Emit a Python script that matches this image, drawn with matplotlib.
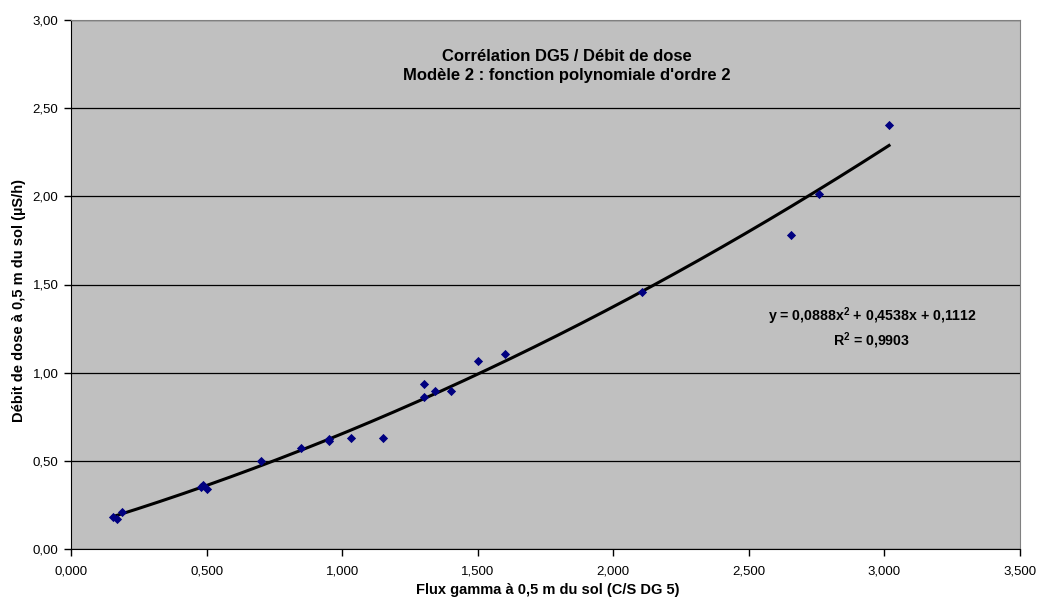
import numpy as np
import matplotlib
matplotlib.use("Agg")
import matplotlib.pyplot as plt
from matplotlib.ticker import FuncFormatter, MultipleLocator

plt.rcParams['font.family'] = ['Liberation Sans', 'DejaVu Sans']

# flux gamma (C/S DG5) vs débit de dose (µS/h)
flux = [0.156, 0.168, 0.188, 0.478, 0.488, 0.500, 0.700, 0.850, 0.950, 0.950,
        1.032, 1.152, 1.301, 1.301, 1.341, 1.402, 1.501, 1.601, 2.105, 2.656,
        2.757, 3.017]
dose = [0.180, 0.170, 0.210, 0.350, 0.361, 0.338, 0.497, 0.574, 0.625, 0.610,
        0.627, 0.627, 0.935, 0.860, 0.897, 0.897, 1.066, 1.105, 1.457, 1.778,
        2.011, 2.405]

# trend line coefficients as printed on the chart
coef = [0.0888, 0.4538, 0.1112]
r2 = 0.9903

fig = plt.figure(figsize=(10.45, 6.03), dpi=100)
ax = fig.add_axes([71/1045, 1 - 549/603, (1020 - 71)/1045, (549 - 20)/603])
ax.set_facecolor('#C0C0C0')

ax.set_xlim(0, 3.5)
ax.set_ylim(0, 3.0)
ax.xaxis.set_major_locator(MultipleLocator(0.5))
ax.yaxis.set_major_locator(MultipleLocator(0.5))
ax.xaxis.set_major_formatter(FuncFormatter(lambda v, p: f"{v:.3f}".replace('.', ',')))
ax.yaxis.set_major_formatter(FuncFormatter(lambda v, p: f"{v:.2f}".replace('.', ',')))

ax.yaxis.grid(True, color='black', linewidth=0.9)
ax.set_axisbelow(True)

xs = np.linspace(min(flux), max(flux), 200)
ax.plot(xs, np.polyval(coef, xs), color='black', linewidth=2.2, zorder=3)
ax.scatter(flux, dose, marker='D', s=22, color='#000080', zorder=4, linewidths=0)

for side in ['top', 'right']:
    ax.spines[side].set_color('#808080')
for side in ['left', 'bottom']:
    ax.spines[side].set_color('black')
ax.tick_params(direction='out', length=5, width=1, labelsize=9.5, pad=4)
ax.tick_params(axis='x', pad=7)

ax.set_xlabel("Flux gamma à 0,5 m du sol (C/S DG 5)", fontsize=10.5,
              fontweight='bold')
ax.xaxis.set_label_coords((548 - 71) / 949, -(590 - 549) / 529)
ax.xaxis.label.set_va('center')
ax.set_ylabel("Débit de dose à 0,5 m du sol (µS/h)", fontsize=10.5,
              fontweight='bold')
ax.yaxis.set_label_coords((19 - 71) / 949, (549 - 300) / 529)
ax.yaxis.label.set_va('center')

fig.text(567/1045, 1 - 66/603,
         "Corrélation DG5 / Débit de dose\nModèle 2 : fonction polynomiale d'ordre 2",
         ha='center', va='center', fontsize=12, fontweight='bold',
         multialignment='center', linespacing=1.3)

eq = (f"y = {coef[0]:.4f}".replace('.', ',') + r"x$^\mathregular{2}$" +
      f" + {coef[1]:.4f}x + {coef[2]:.4f}".replace('.', ',') +
      "\n" + r"R$^\mathregular{2}$" + f" = {r2:.4f}".replace('.', ','))
fig.text(872/1045, 1 - 328/603, eq, ha='center', va='center', fontsize=10.2,
         fontweight='bold', multialignment='center', linespacing=1.25)

fig.savefig("out.png", dpi=100)
